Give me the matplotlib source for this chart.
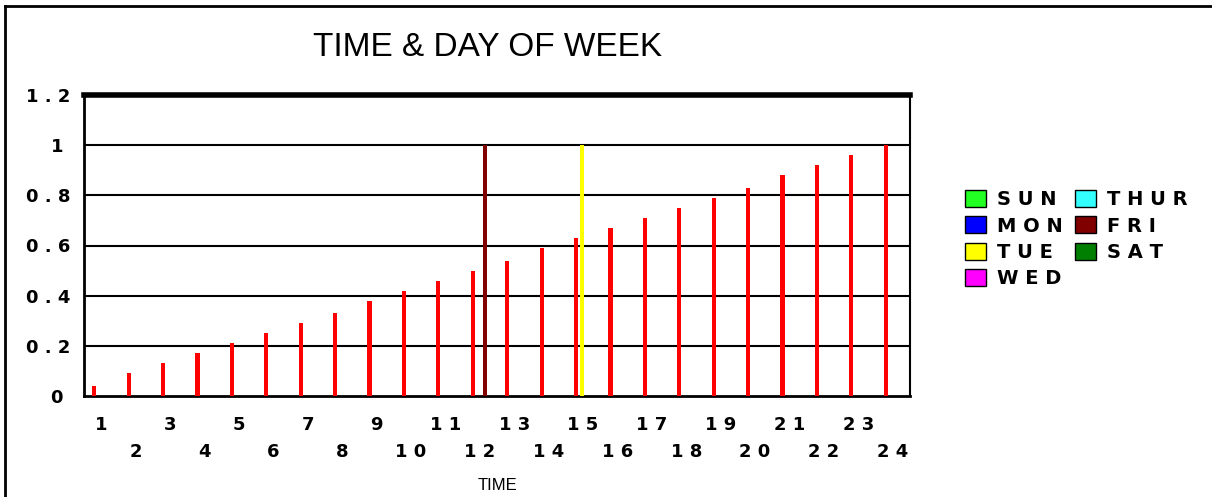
import matplotlib
matplotlib.use('Agg')
import matplotlib.pyplot as plt
from matplotlib.patches import Patch
from matplotlib.lines import Line2D
import numpy as np

# data
hours = list(range(1, 25))
time_vals = [0.04, 0.09, 0.13, 0.17, 0.21, 0.25, 0.29, 0.33, 0.38, 0.42, 0.46, 0.50,
             0.54, 0.59, 0.63, 0.67, 0.71, 0.75, 0.79, 0.83, 0.88, 0.92, 0.96, 1.00]
sun  = [0]*24
mon  = [0]*24
tue  = [0]*14 + [1] + [0]*9
wed  = [0]*24
thur = [0]*24
fri  = [0]*11 + [1] + [0]*12
sat  = [0]*24

days = ['S U N', 'M O N', 'T U E', 'W E D', 'T H U R', 'F R I', 'S A T']
day_vals = [sun, mon, tue, wed, thur, fri, sat]
day_cols = ['#22ff22', '#0000ff', '#ffff00', '#ff00ff', '#33ffff', '#800000', '#007f00']

xlabels = ['1', '2', '3', '4', '5', '6', '7', '8', '9', '1 0', '1 1', '1 2',
           '1 3', '1 4', '1 5', '1 6', '1 7', '1 8', '1 9', '2 0', '2 1', '2 2', '2 3', '2 4']
yticks = [0, 0.2, 0.4, 0.6, 0.8, 1.0, 1.2]
ylabels = ['0 ', '0 . 2', '0 . 4', '0 . 6', '0 . 8', '1 ', '1 . 2']

W, H = 1212, 497
fig = plt.figure(figsize=(W/100, H/100), dpi=100)
ax = fig.add_axes([84/W, 1-396/H, (910-84)/W, (396-95)/H])

x = np.array(hours)
slot = 0.058
bw = 0.12
# red series first, then the days
ax.bar(x + (0 - 3.5)*slot, time_vals, width=bw, color='#ff0000', zorder=3)
for k, (vals, col) in enumerate(zip(day_vals, day_cols)):
    ax.bar(x + (k + 1 - 3.5)*slot, vals, width=bw, color=col, zorder=3 + k)

for yv in [0.2, 0.4, 0.6, 0.8, 1.0]:
    ax.axhline(yv, color='black', lw=1.5, zorder=1)

ax.set_xlim(0.5, 24.5)
ax.set_ylim(0, 1.2)
ax.spines['top'].set_linewidth(4)
ax.spines['left'].set_linewidth(2)
ax.spines['bottom'].set_linewidth(2)
ax.spines['right'].set_linewidth(1.5)

ax.set_xticks(hours)
ax.set_xticklabels(xlabels, fontsize=13, fontweight='bold', family='DejaVu Sans')
ax.set_yticks(yticks)
ax.set_yticklabels(ylabels, fontsize=13, fontweight='bold', family='DejaVu Sans')
ax.tick_params(axis='both', length=0)
ax.tick_params(axis='y', pad=10)
for i, t in enumerate(ax.xaxis.get_major_ticks()):
    t.set_pad(14.5 if i % 2 == 0 else 34)

handles = [Patch(facecolor=c, edgecolor='black', lw=1) for c in day_cols]
fig.legend(handles, days, loc='upper left', bbox_to_anchor=(965/W, 1-190/H), ncol=2,
           frameon=False, borderpad=0, borderaxespad=0, handlelength=1.1, handleheight=0.95,
           handletextpad=0.55, labelspacing=0.38, columnspacing=0.6,
           prop={'family': 'DejaVu Sans', 'weight': 'bold', 'size': 14})

fig.text(488/W, 1-47/H, 'TIME & DAY OF WEEK', ha='center', va='center',
         fontsize=24, family='Liberation Sans')
fig.text(497/W, 1-485/H, 'TIME', ha='center', va='center', fontsize=12, family='Liberation Sans')

# outer frame (only left and top edges visible)
fig.add_artist(Line2D([5/W, 5/W], [0, 1-6/H], color='black', lw=2))
fig.add_artist(Line2D([5/W, 1], [1-6/H, 1-6/H], color='black', lw=2))

fig.savefig('out.png', dpi=100)
